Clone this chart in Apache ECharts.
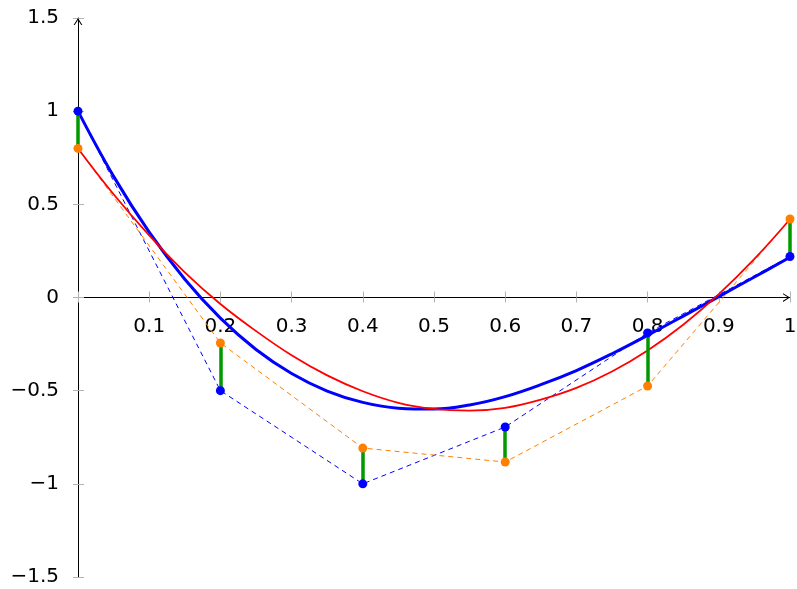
<!DOCTYPE html>
<html>
<head>
<meta charset="utf-8">
<script src="https://cdn.jsdelivr.net/npm/echarts@6/dist/echarts.min.js"></script>
<style>
  html, body { margin: 0; padding: 0; background: #ffffff; }
  #chart { width: 797px; height: 589px; }
</style>
</head>
<body>
<div id="chart"></div>
<script>
// Sample positions and the two sets of measured values
const sampleX   = [0, 0.2, 0.4, 0.6, 0.8, 1];
const observed  = [1, -0.5, -1, -0.695, -0.19, 0.22];
const predicted = [0.8, -0.244, -0.808, -0.883, -0.475, 0.421];

// Fitted curves, sampled every 0.05
const curveX    = [0, 0.05, 0.1, 0.15, 0.2, 0.25, 0.3, 0.35, 0.4, 0.45, 0.5,
                   0.55, 0.6, 0.65, 0.7, 0.75, 0.8, 0.85, 0.9, 0.95, 1];
const blueCurve = [1.0, 0.650, 0.351, 0.098, -0.111, -0.279, -0.408, -0.502, -0.563, -0.594, -0.599,
                   -0.577, -0.532, -0.468, -0.392, -0.302, -0.203, -0.100, 0.005, 0.110, 0.216];
const redCurve  = [0.80, 0.554, 0.333, 0.135, -0.035, -0.180, -0.310, -0.418, -0.503, -0.565, -0.598,
                   -0.607, -0.592, -0.548, -0.485, -0.397, -0.284, -0.146, 0.018, 0.207, 0.420];

// Axis ticks
const xTicks = [0, 0.1, 0.2, 0.3, 0.4, 0.5, 0.6, 0.7, 0.8, 0.9, 1];
const yTicks = [-1.5, -1, -0.5, 0, 0.5, 1, 1.5];

const zip = (xs, ys) => xs.map((x, i) => [x, ys[i]]);
const residuals = sampleX.map((x, i) => ({ coords: [[x, observed[i]], [x, predicted[i]]] }));

const W = 797, H = 589;
const PLOT = { left: 78, right: 7, top: 18, bottom: 12 };
const FONT = 'DejaVu Sans';
const TICK_GRAY = '#b3b3b3';
const ARROW = 'path://M5,0 L10,8 L8.7,8 L5,2.2 L1.3,8 L0,8 Z';

const xMin = xTicks[0], xMax = xTicks[xTicks.length - 1], xStep = xTicks[1] - xTicks[0];
const yMin = yTicks[0], yMax = yTicks[yTicks.length - 1], yStep = yTicks[1] - yTicks[0];

// The horizontal axis sits on y = 0: a second grid ends exactly there
const plotH = H - PLOT.top - PLOT.bottom;
const zeroY = PLOT.top + plotH * (yMax - 0) / (yMax - yMin);

const fmtX = v => { const n = Number(v); return n === 0 ? '' : String(Math.round(n * 10) / 10); };
const fmtY = v => { const n = Number(v); return n === 0 ? '0' : String(n).replace('-', '\u2212'); };

const xRange = { type: 'value', min: xMin, max: xMax, interval: xStep };
const yRange = { type: 'value', min: yMin, max: yMax, interval: yStep };
const noSplit = { splitLine: { show: false } };

const chart = echarts.init(document.getElementById('chart'), null, { renderer: 'canvas' });

chart.setOption({
  animation: false,
  backgroundColor: '#ffffff',
  grid: [
    Object.assign({ outerBoundsMode: 'none', containLabel: false }, PLOT),
    { left: PLOT.left, right: PLOT.right, top: PLOT.top, bottom: H - zeroY, outerBoundsMode: 'none', containLabel: false }
  ],
  xAxis: [
    // data axis of the plot
    Object.assign({ gridIndex: 0, show: false }, xRange, noSplit),
    // visible horizontal axis with labels and downward ticks
    Object.assign({ gridIndex: 1, position: 'bottom' }, xRange, noSplit, {
      axisLine: { show: true, onZero: false, lineStyle: { color: '#000', width: 1 },
                  symbol: ['none', ARROW], symbolSize: [9, 7], symbolOffset: [0, -3.5] },
      axisTick: { show: true, length: 5, lineStyle: { color: TICK_GRAY, width: 1 } },
      axisLabel: { show: true, margin: 19, fontSize: 20, fontFamily: FONT, color: '#000', formatter: fmtX }
    }),
    // upward half of the crossing ticks
    Object.assign({ gridIndex: 1, position: 'bottom' }, xRange, noSplit, {
      axisLine: { show: false, onZero: false },
      axisTick: { show: true, inside: true, length: 6, lineStyle: { color: TICK_GRAY, width: 1 } },
      axisLabel: { show: false }
    })
  ],
  yAxis: [
    Object.assign({ gridIndex: 0, position: 'left' }, yRange, noSplit, {
      axisLine: { show: true, onZero: false, lineStyle: { color: '#000', width: 1 },
                  symbol: ['none', ARROW], symbolSize: [9, 7], symbolOffset: [0, -3.5] },
      axisTick: { show: true, length: 5, lineStyle: { color: TICK_GRAY, width: 1 } },
      axisLabel: { show: true, margin: 19, fontSize: 20, fontFamily: FONT, color: '#000', formatter: fmtY }
    }),
    Object.assign({ gridIndex: 0, position: 'left' }, yRange, noSplit, {
      axisLine: { show: false, onZero: false },
      axisTick: { show: true, inside: true, length: 6, lineStyle: { color: TICK_GRAY, width: 1 } },
      axisLabel: { show: false }
    }),
    Object.assign({ gridIndex: 1, show: false }, yRange, noSplit)
  ],
  series: [
    {
      type: 'line', name: 'observed path', data: zip(sampleX, observed),
      xAxisIndex: 0, yAxisIndex: 0,
      showSymbol: false, z: 1, silent: true,
      lineStyle: { color: '#0000ff', width: 1, type: [5, 4] }
    },
    {
      type: 'line', name: 'predicted path', data: zip(sampleX, predicted),
      xAxisIndex: 0, yAxisIndex: 0,
      showSymbol: false, z: 1, silent: true,
      lineStyle: { color: '#ff8000', width: 1, type: [5, 4] }
    },
    {
      type: 'line', name: 'blue fit', data: zip(curveX, blueCurve),
      xAxisIndex: 0, yAxisIndex: 0,
      smooth: 0.4, showSymbol: false, z: 2, silent: true, clip: true,
      lineStyle: { color: '#0000ff', width: 3 }
    },
    {
      type: 'line', name: 'red fit', data: zip(curveX, redCurve),
      xAxisIndex: 0, yAxisIndex: 0,
      smooth: 0.4, showSymbol: false, z: 3, silent: true, clip: true,
      lineStyle: { color: '#ff0000', width: 1.8 }
    },
    {
      type: 'lines', name: 'residuals', coordinateSystem: 'cartesian2d',
      xAxisIndex: 0, yAxisIndex: 0,
      data: residuals, z: 4, silent: true, clip: true,
      lineStyle: { color: '#009900', width: 3.5, opacity: 1, curveness: 0 }
    },
    {
      type: 'scatter', name: 'predicted', data: zip(sampleX, predicted),
      xAxisIndex: 0, yAxisIndex: 0,
      symbol: 'circle', symbolSize: 9, z: 5, clip: false, silent: true,
      itemStyle: { color: '#ff8000', opacity: 1 }
    },
    {
      type: 'scatter', name: 'observed', data: zip(sampleX, observed),
      xAxisIndex: 0, yAxisIndex: 0,
      symbol: 'circle', symbolSize: 9, z: 6, clip: false, silent: true,
      itemStyle: { color: '#0000ff', opacity: 1 }
    }
  ]
});
</script>
</body>
</html>
